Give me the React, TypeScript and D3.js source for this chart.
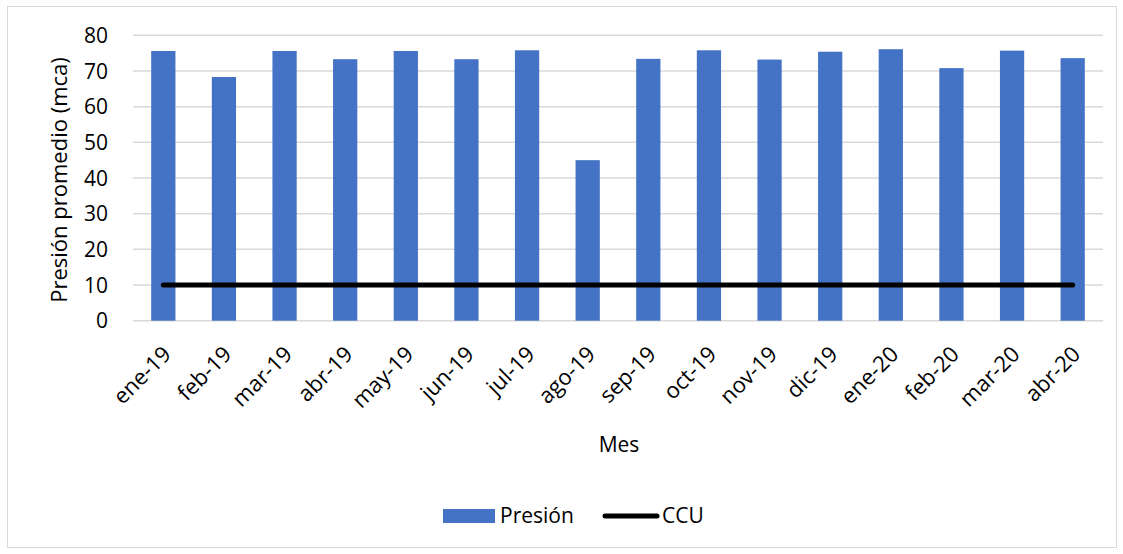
import { useEffect, useRef } from 'react';
import * as d3 from 'd3';

const months = ['ene-19', 'feb-19', 'mar-19', 'abr-19', 'may-19', 'jun-19', 'jul-19', 'ago-19',
  'sep-19', 'oct-19', 'nov-19', 'dic-19', 'ene-20', 'feb-20', 'mar-20', 'abr-20'];
const presion = [75.6, 68.3, 75.6, 73.3, 75.6, 73.3, 75.8, 45.0, 73.4, 75.8, 73.2, 75.4, 76.1, 70.8, 75.7, 73.6];
const ccu = [10, 10, 10, 10, 10, 10, 10, 10, 10, 10, 10, 10, 10, 10, 10, 10];
const yTicks = [0, 10, 20, 30, 40, 50, 60, 70, 80];

const FONT = 'Open Sans, sans-serif';

export default function App() {
  const svgRef = useRef<SVGSVGElement>(null);
  const width = 1123;
  const height = 554;

  useEffect(() => {
    if (!svgRef.current) return;
    const svg = d3.select(svgRef.current);
    svg.selectAll('*').remove();

    const plotLeft = 133;
    const plotRight = 1103;
    const plotTop = 35.3;
    const plotBottom = 320.7;

    // chart frame
    svg.append('rect')
      .attr('x', 7.5).attr('y', 6.5)
      .attr('width', 1109).attr('height', 541)
      .attr('fill', '#fff')
      .attr('stroke', '#d9d9d9')
      .attr('stroke-width', 1);

    const x = d3.scaleBand<string>()
      .domain(months)
      .range([plotLeft, plotRight])
      .paddingInner(0.6)
      .paddingOuter(0.3);

    const y = d3.scaleLinear()
      .domain([0, 80])
      .range([plotBottom, plotTop]);

    // gridlines
    svg.append('g')
      .selectAll('line')
      .data(yTicks)
      .join('line')
      .attr('x1', plotLeft)
      .attr('x2', plotRight)
      .attr('y1', d => y(d))
      .attr('y2', d => y(d))
      .attr('stroke', '#d9d9d9')
      .attr('stroke-width', 1.5);

    // y tick labels
    svg.append('g')
      .selectAll('text')
      .data(yTicks)
      .join('text')
      .attr('x', 108)
      .attr('y', d => y(d))
      .attr('dy', '0.36em')
      .attr('text-anchor', 'end')
      .attr('font-family', FONT)
      .attr('font-size', 21)
      .attr('fill', '#000')
      .text(d => d);

    // bars
    svg.append('g')
      .selectAll('rect')
      .data(presion)
      .join('rect')
      .attr('x', (d, i) => x(months[i])!)
      .attr('y', d => y(d))
      .attr('width', x.bandwidth())
      .attr('height', d => y(0) - y(d))
      .attr('fill', '#4472c4');

    // CCU line
    const line = d3.line<number>()
      .x((d, i) => x(months[i])! + x.bandwidth() / 2)
      .y(d => y(d));

    svg.append('path')
      .datum(ccu)
      .attr('d', line)
      .attr('fill', 'none')
      .attr('stroke', '#000')
      .attr('stroke-width', 5)
      .attr('stroke-linecap', 'round');

    // x tick labels
    svg.append('g')
      .selectAll('text')
      .data(months)
      .join('text')
      .attr('transform', d => `translate(${x(d)! + x.bandwidth() / 2 + 9},${plotBottom + 35}) rotate(-45)`)
      .attr('text-anchor', 'end')
      .attr('font-family', FONT)
      .attr('font-size', 22)
      .attr('fill', '#000')
      .text(d => d);

    // axis titles
    svg.append('text')
      .attr('x', 619)
      .attr('y', 452)
      .attr('text-anchor', 'middle')
      .attr('font-family', FONT)
      .attr('font-size', 21)
      .text('Mes');

    svg.append('text')
      .attr('transform', `translate(67,${(plotBottom + plotTop) / 2 + 2}) rotate(-90)`)
      .attr('text-anchor', 'middle')
      .attr('font-family', FONT)
      .attr('font-size', 22)
      .text('Presión promedio (mca)');

    // legend
    const lg = svg.append('g');
    lg.append('rect')
      .attr('x', 443).attr('y', 509)
      .attr('width', 52).attr('height', 14)
      .attr('fill', '#4472c4');
    lg.append('text')
      .attr('x', 500).attr('y', 523)
      .attr('font-family', FONT)
      .attr('font-size', 21)
      .text('Presión');
    lg.append('line')
      .attr('x1', 605).attr('x2', 657)
      .attr('y1', 516).attr('y2', 516)
      .attr('stroke', '#000')
      .attr('stroke-width', 5)
      .attr('stroke-linecap', 'round');
    lg.append('text')
      .attr('x', 662).attr('y', 523)
      .attr('font-family', FONT)
      .attr('font-size', 21)
      .text('CCU');
  }, []);

  return (
    <svg
      ref={svgRef}
      width={width}
      height={height}
      style={{ position: 'absolute', left: 0, top: 0, display: 'block' }}
    />
  );
}
